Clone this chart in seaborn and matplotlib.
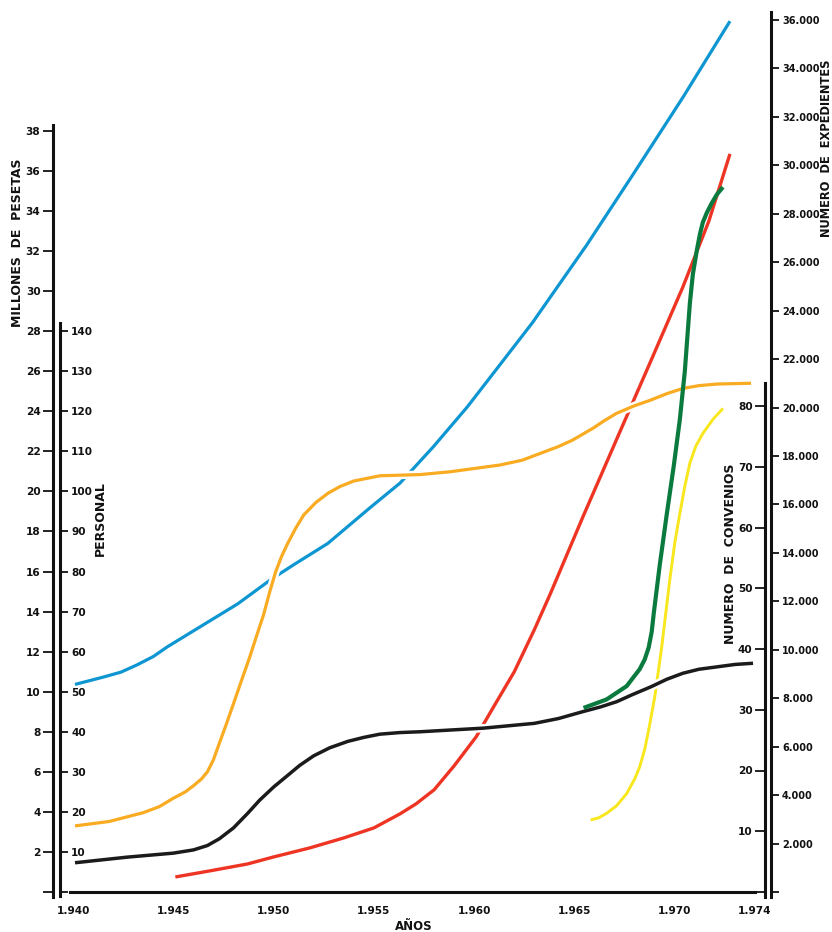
import matplotlib
matplotlib.use("Agg")
import matplotlib.pyplot as plt
import matplotlib.patheffects as pe
import seaborn as sns

# --- valores (años / valor en su propio eje) ---

# Millones de pesetas (rojo)
anios_rojo = [1945.1, 1946.8, 1948.7, 1950.0, 1951.8, 1953.5, 1955.0, 1956.3, 1957.1, 1958.0,
              1959.0, 1960.1, 1961.0, 1962.0, 1963.0, 1963.8, 1965.45, 1967.1, 1968.8,
              1970.4, 1971.7, 1972.75]
pesetas_rojo = [0.75, 1.05, 1.4, 1.75, 2.2, 2.7, 3.2, 3.9, 4.4, 5.1,
                6.3, 7.75, 9.3, 11.0, 13.1, 14.9, 18.8, 22.6, 26.5,
                30.2, 33.5, 36.85]

# Personal (naranja y negro)
anios_naranja = [1940.1, 1941.8, 1943.5, 1944.3, 1945.0, 1945.6, 1946.0, 1946.4, 1946.7,
                 1947.0, 1947.3, 1947.65, 1948.0, 1948.4, 1948.8, 1949.15, 1949.5, 1949.8,
                 1950.1, 1950.4, 1950.7, 1951.1, 1951.5, 1952.1, 1952.7, 1953.3, 1954.0,
                 1955.3, 1957.3, 1958.8, 1961.3, 1962.4, 1963.3, 1964.2, 1964.9, 1965.9,
                 1966.5, 1967.1, 1968.0, 1968.8, 1969.6, 1970.4, 1971.2, 1972.1, 1973.8]
personal_naranja = [16.5, 17.6, 19.8, 21.3, 23.4, 25.0, 26.5, 28.2, 30.0,
                    33.0, 37.2, 42.0, 47.0, 52.8, 58.5, 63.9, 69.2, 74.8,
                    79.9, 83.8, 87.0, 90.8, 94.1, 97.2, 99.5, 101.2, 102.6,
                    103.9, 104.2, 104.9, 106.6, 107.8, 109.5, 111.2, 112.8, 115.7,
                    117.7, 119.5, 121.4, 122.8, 124.4, 125.7, 126.4, 126.8, 127.0]

anios_negro = [1940.1, 1942.7, 1945.0, 1946.0, 1946.7, 1947.3, 1948.0, 1948.7, 1949.3,
               1950.0, 1950.7, 1951.3, 1952.0, 1952.8, 1953.7, 1954.5, 1955.3, 1956.3,
               1957.3, 1960.45, 1963.0, 1964.2, 1965.4, 1966.3, 1967.1, 1967.9, 1968.8,
               1969.6, 1970.4, 1971.2, 1972.1, 1973.0, 1973.9]
personal_negro = [7.3, 8.7, 9.7, 10.5, 11.6, 13.3, 16.0, 19.6, 22.9,
                  26.2, 29.1, 31.6, 34.0, 36.0, 37.6, 38.6, 39.4, 39.8,
                  40.0, 40.9, 42.1, 43.3, 45.0, 46.2, 47.5, 49.3, 51.2,
                  53.1, 54.6, 55.6, 56.2, 56.8, 57.1]

# Numero de expedientes (azul y verde)
anios_azul = [1940.1, 1941.5, 1942.4, 1943.2, 1944.0, 1944.7, 1946.3, 1948.2, 1949.9,
              1951.0, 1952.7, 1954.8, 1956.3, 1957.95, 1959.65, 1960.8, 1962.9, 1965.6,
              1967.9, 1970.4, 1972.75]
expedientes_azul = [8570, 8870, 9080, 9380, 9720, 10120, 10930, 11890, 12920,
                    13510, 14390, 15860, 16880, 18370, 20020, 21250, 23500, 26700,
                    29600, 32800, 35950]

anios_verde = [1965.45, 1966.6, 1967.6, 1968.25, 1968.5, 1968.7, 1968.85, 1968.95, 1969.1,
               1969.25, 1969.6, 1969.95, 1970.25, 1970.5, 1970.75, 1970.9, 1971.1, 1971.25,
               1971.4, 1971.6, 1971.85, 1972.1, 1972.4]
expedientes_verde = [7600, 7950, 8500, 9200, 9600, 10100, 10750, 11500, 12500,
                     13500, 15600, 17600, 19500, 21500, 24300, 25500, 26500, 27150,
                     27650, 28050, 28450, 28800, 29100]

# Numero de convenios (amarillo)
anios_amarillo = [1965.8, 1966.2, 1966.6, 1967.1, 1967.6, 1968.0, 1968.25, 1968.5, 1968.7,
                  1969.0, 1969.35, 1969.75, 1970.0, 1970.25, 1970.5, 1970.75, 1971.05,
                  1971.4, 1971.9, 1972.4]
convenios_amarillo = [11.85, 12.2, 12.95, 14.2, 16.2, 18.6, 20.6, 23.5, 26.7,
                      32.1, 40.4, 51.4, 57.5, 62.3, 66.8, 70.6, 73.4,
                      75.5, 77.8, 79.6]

x_ticks = [1940, 1945, 1950, 1955, 1960, 1965, 1970, 1974]
pesetas_ticks = list(range(0, 39, 2))
personal_ticks = list(range(0, 141, 10))
convenios_ticks = list(range(0, 81, 10))
expedientes_ticks = list(range(0, 36001, 2000))


def miles(v):
    return f"{v:,}".replace(",", ".") if v else ""


sns.set_style("white")
plt.rcParams['font.family'] = ['DejaVu Sans']

W, H = 832, 932
fig = plt.figure(figsize=(W / 100, H / 100), dpi=100)
px_left, px_right, px_bottom, px_top = 53, 771, 892, 12
ax = fig.add_axes([px_left / W, 1 - px_bottom / H,
                   (px_right - px_left) / W, (px_bottom - px_top) / H])
ancho = px_right - px_left
alto = px_bottom - px_top

px_anio = 20.06
ax.set_xlim(1940 - (73 - px_left) / px_anio, 1940 + (px_right - 73) / px_anio)
ax.set_ylim(0, alto / 20.03)

ax_exp = ax.twinx()
ax_exp.set_ylim(0, alto * 36000 / 872)
ax_conv = ax.twinx()
ax_conv.set_ylim(0, alto * 80 / 486)
ax_pers = ax.twinx()
ax_pers.set_ylim(0, alto / 20.03 * 5)
ax_top = ax.twinx()
ax_top.set_ylim(ax_exp.get_ylim())

lw_spine = 2.2
for a in [ax, ax_exp, ax_conv, ax_pers, ax_top]:
    for s in a.spines.values():
        s.set_visible(False)
        s.set_linewidth(lw_spine)
        s.set_color('#111111')

tick_fs = 7.6

# eje de años
ax.spines['bottom'].set_visible(True)
ax.spines['bottom'].set_bounds(1939.85, 1974.0)
ax.set_xticks(x_ticks)
ax.set_xticklabels([f"1.{str(t)[1:]}" for t in x_ticks], fontsize=tick_fs, fontweight='bold')
ax.tick_params(axis='x', direction='inout', length=8, width=1.5, pad=6, colors='#111111')

# millones de pesetas
ax.spines['left'].set_visible(True)
ax.spines['left'].set_bounds(-0.25, 38.3)
ax.set_yticks(pesetas_ticks)
ax.set_yticklabels([str(t) if t else "" for t in pesetas_ticks], fontsize=tick_fs, fontweight='bold')
ax.tick_params(axis='y', direction='out', length=7, width=1.3, pad=2, colors='#111111')

# personal (eje interior izquierdo)
ax_pers.spines['right'].set_visible(True)
ax_pers.spines['right'].set_position(('axes', 7 / ancho))
ax_pers.spines['right'].set_bounds(-1, 142)
ax_pers.set_yticks(personal_ticks)
ax_pers.set_yticklabels([str(t) if t else "" for t in personal_ticks], fontsize=tick_fs, fontweight='bold')
ax_pers.tick_params(axis='y', direction='out', length=6, width=1.3, pad=2, colors='#111111')

# convenios (eje interior derecho)
ax_conv.yaxis.tick_left()
ax_conv.spines['left'].set_visible(True)
ax_conv.spines['left'].set_position(('axes', 1 - 6 / ancho))
ax_conv.spines['left'].set_bounds(-0.8, 83.8)
ax_conv.set_yticks(convenios_ticks)
ax_conv.set_yticklabels([str(t) if t else "" for t in convenios_ticks], fontsize=tick_fs, fontweight='bold')
ax_conv.tick_params(axis='y', direction='out', length=7, width=1.3, pad=2, colors='#111111')

# expedientes (eje exterior derecho)
ax_exp.spines['right'].set_visible(True)
ax_exp.spines['right'].set_bounds(-200, ax_exp.get_ylim()[1])
ax_exp.set_yticks(expedientes_ticks)
ax_exp.set_yticklabels([miles(t) for t in expedientes_ticks], fontsize=7.0, fontweight='bold')
ax_exp.tick_params(axis='y', direction='out', length=6, width=1.3, pad=2, colors='#111111')

ax_top.set_yticks([])

# curvas
gap = lambda lw: [pe.Stroke(linewidth=lw + 3.5, foreground='white'), pe.Normal()]
sns.lineplot(x=anios_rojo, y=pesetas_rojo, ax=ax, color='#ee3524', lw=2.4,
             estimator=None, solid_capstyle='butt')
sns.lineplot(x=anios_azul, y=expedientes_azul, ax=ax_exp, color='#0d96d2', lw=2.3,
             estimator=None, solid_capstyle='butt')
sns.lineplot(x=anios_amarillo, y=convenios_amarillo, ax=ax_conv, color='#f8e71c', lw=2.1,
             estimator=None, solid_capstyle='butt')
sns.lineplot(x=anios_naranja, y=personal_naranja, ax=ax_pers, color='#f9ab22', lw=2.3,
             estimator=None, solid_capstyle='butt', path_effects=gap(2.3))
sns.lineplot(x=anios_negro, y=personal_negro, ax=ax_pers, color='#1b1b1b', lw=2.5,
             estimator=None, solid_capstyle='butt', path_effects=gap(2.5))
sns.lineplot(x=anios_verde, y=expedientes_verde, ax=ax_top, color='#0b7a3e', lw=3.0,
             estimator=None, solid_capstyle='butt')
for a in [ax, ax_exp, ax_conv, ax_pers, ax_top]:
    a.set_xlabel("")
    a.set_ylabel("")

# titulos de ejes
kw = dict(rotation=90, ha='center', va='center', fontsize=9, fontweight='bold', color='#111111')
fig.text(18 / W, 1 - 243 / H, "MILLONES  DE  PESETAS", **kw)
fig.text(100 / W, 1 - 519 / H, "PERSONAL", **kw)
fig.text(731 / W, 1 - 554 / H, "NUMERO  DE  CONVENIOS", **kw)
fig.text(826 / W, 1 - 148 / H, "NUMERO  DE  EXPEDIENTES",
         **{**kw, 'fontsize': 8.3})
fig.text(414 / W, 1 - 927 / H, "AÑOS", ha='center', va='center', fontsize=8.5,
         fontweight='bold', color='#111111')

fig.savefig("out.png", dpi=100)
